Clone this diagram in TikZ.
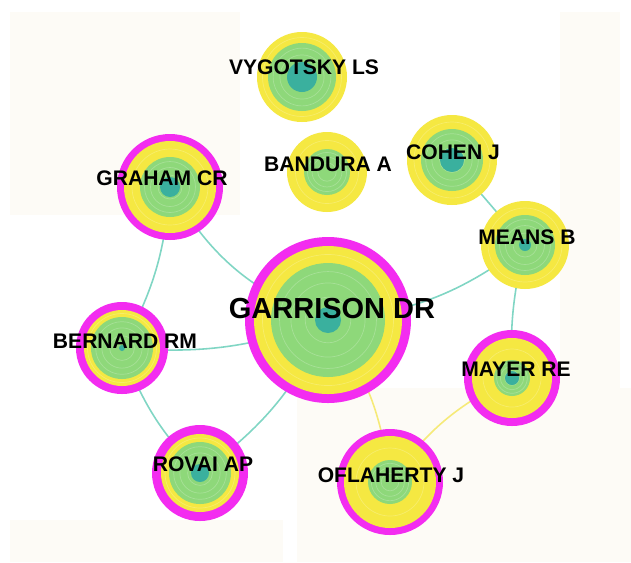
\documentclass[tikz,border=0pt]{standalone}
\usepackage{fontspec}
\setmainfont{Liberation Sans}
\usetikzlibrary{positioning}

\definecolor{cmag}{RGB}{243,44,240}
\definecolor{cyel}{RGB}{245,232,66}
\definecolor{cgrn}{RGB}{142,216,122}
\definecolor{cteal}{RGB}{58,176,158}
\definecolor{clink}{RGB}{128,214,196}
\definecolor{cylink}{RGB}{246,234,120}
\definecolor{cbg}{RGB}{253,251,246}

\tikzset{
  lbl/.style={font=\bfseries\fontsize{12}{12}\selectfont,inner sep=0pt},
  biglbl/.style={font=\bfseries\fontsize{16.5}{16.5}\selectfont,inner sep=0pt},
  link/.style={clink,line width=0.9pt},
  ylink/.style={cylink,line width=0.9pt},
  ringline/.style={white,opacity=.22,line width=.4pt}
}

\begin{document}
\begin{tikzpicture}[x=0.02cm,y=-0.02cm]
  \useasboundingbox (0,0) rectangle (631,562);
  % ====== faint background ======
  \fill[white] (0,0) rectangle (631,562);
  \fill[cbg] (297,388) rectangle (631,562);
  \fill[cbg] (10,520) rectangle (283,562);
  \fill[cbg] (10,12) rectangle (240,215);
  \fill[cbg] (560,12) rectangle (620,388);

  % ====== node centres ======
  \foreach \nm/\x/\y in {garrison/328/320, graham/170/187, vygotsky/302/77,
      bandura/327/172, cohen/452/160, means/525/245, mayer/512/378,
      oflaherty/390/482, bernard/122/348, rovai/200/473}{
    \coordinate (\nm) at (\x,\y);
  }

  % ====== co-citation links ======
  \draw[link] (graham) to[bend right=20] (garrison);
  \draw[link] (graham) to[bend left=12] (bernard);
  \draw[link] (bernard) to[bend right=12] (garrison);
  \draw[link] (bernard) to[bend right=12] (rovai);
  \draw[link] (rovai) to[bend right=14] (garrison);
  \draw[link] (garrison) to[bend right=16] (means);
  \draw[link] (cohen) -- (means);
  \draw[link] (means) to[bend right=8] (mayer);
  \draw[ylink] (garrison) to[bend left=14] (oflaherty);
  \draw[ylink] (mayer) to[bend right=14] (oflaherty);

  % ====== citation rings ======
  \foreach \nm/\rmag/\ryel/\rgrn/\rtea in {garrison/83/74/57/13, graham/53/46/30/10,
      vygotsky/0/45/34/15, bandura/0/40/23/0, cohen/0/45/31/12, means/0/44/30/6,
      mayer/48/40/18/7, oflaherty/53/46/22/0, bernard/46/38/31/3, rovai/48/39/31/9}{
    \ifnum\rmag>0 \fill[cmag] (\nm) circle (\rmag); \fi
    \fill[cyel] (\nm) circle (\ryel);
    \draw[ringline] (\nm) circle ({0.5*(\ryel+\rgrn)});
    \fill[cgrn] (\nm) circle (\rgrn);
    \foreach \f in {0.4,0.65,0.85}
      \draw[ringline] (\nm) circle ({\f*\rgrn});
    \ifnum\rtea>0 \fill[cteal] (\nm) circle (\rtea); \fi
  }

  % ====== labels ======
  \node[biglbl] (garrisonlbl) at (332,309) {GARRISON DR};
  \node[lbl] (vygotskylbl) at (304,67) {VYGOTSKY LS};
  \node[lbl] (grahamlbl) at (162,178) {GRAHAM CR};
  \node[lbl] (banduralbl) at (328,164) {BANDURA A};
  \node[lbl] (cohenlbl) at (453,152) {COHEN J};
  \node[lbl] (meanslbl) at (527,237) {MEANS B};
  \node[lbl] (bernardlbl) at (125,341) {BERNARD RM};
  \node[lbl] (mayerlbl) at (516,369) {MAYER RE};
  \node[lbl] (rovailbl) at (203,464) {ROVAI AP};
  \node[lbl] (oflahertylbl) at (391,475) {OFLAHERTY J};
\end{tikzpicture}
\end{document}
